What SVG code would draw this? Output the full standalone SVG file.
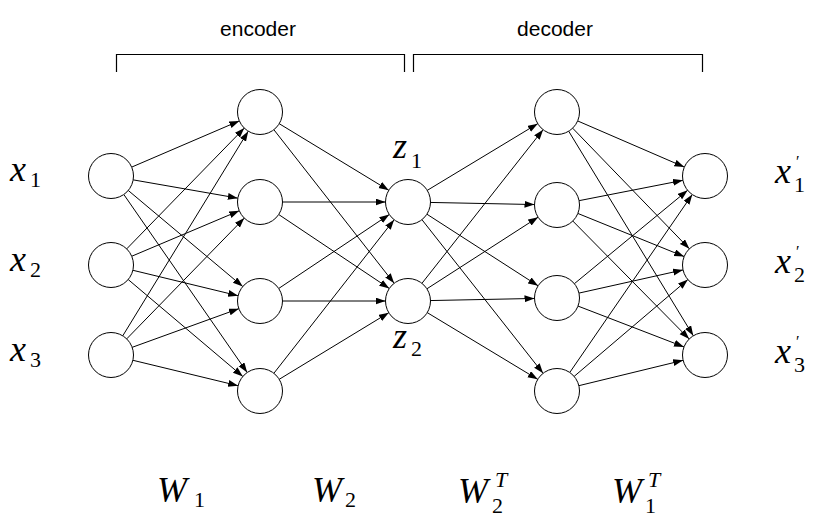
<svg xmlns="http://www.w3.org/2000/svg" width="821" height="522" viewBox="0 0 821 522">
<defs>
<marker id="ah" markerWidth="10" markerHeight="8" refX="10" refY="3.5" orient="auto" markerUnits="userSpaceOnUse">
<path d="M0,0 L10,3.5 L0,7 z" fill="#000"/>
</marker>
</defs>
<style>
.node circle{fill:#fff;stroke:#000;stroke-width:1}
.edges line{stroke:#000;stroke-width:1;marker-end:url(#ah)}
.br{fill:none;stroke:#000;stroke-width:1.2}
.lab{font-family:"Liberation Sans",Arial,sans-serif;font-size:21px;fill:#000;text-anchor:middle}
</style>
<rect width="821" height="522" fill="#fff"/>
<g id="brackets">
<path class="br" d="M116.5,72 V54.5 H404.5 V72"/>
<path class="br" d="M413.5,72 V54.5 H702.5 V72"/>
<text class="lab" x="258" y="36">encoder</text>
<text class="lab" x="555" y="36">decoder</text>
</g>
<g class="edges" id="connectors">
<line x1="131.67" y1="167.12" x2="239.33" y2="120.88"/>
<line x1="133.16" y1="179.87" x2="237.84" y2="198.13"/>
<line x1="128.24" y1="190.46" x2="242.76" y2="286.54"/>
<line x1="123.82" y1="194.49" x2="247.18" y2="372.51"/>
<line x1="126.70" y1="248.88" x2="244.30" y2="128.12"/>
<line x1="131.72" y1="256.24" x2="239.28" y2="210.76"/>
<line x1="132.87" y1="270.28" x2="238.13" y2="295.72"/>
<line x1="128.18" y1="279.53" x2="242.82" y2="376.47"/>
<line x1="122.76" y1="335.82" x2="248.24" y2="131.18"/>
<line x1="126.70" y1="338.88" x2="244.30" y2="218.12"/>
<line x1="132.15" y1="347.33" x2="238.85" y2="308.67"/>
<line x1="132.87" y1="360.28" x2="238.13" y2="385.72"/>
<line x1="279.22" y1="123.69" x2="388.78" y2="190.31"/>
<line x1="273.87" y1="129.71" x2="394.13" y2="283.29"/>
<line x1="282.5" y1="202" x2="385.5" y2="202"/>
<line x1="278.70" y1="214.51" x2="389.30" y2="288.49"/>
<line x1="278.70" y1="288.49" x2="389.30" y2="214.51"/>
<line x1="282.5" y1="301" x2="385.5" y2="301"/>
<line x1="273.87" y1="373.29" x2="394.13" y2="219.71"/>
<line x1="279.22" y1="379.31" x2="388.78" y2="312.69"/>
<line x1="427.26" y1="190.37" x2="537.74" y2="123.63"/>
<line x1="430.5" y1="202.45" x2="534.5" y2="204.55"/>
<line x1="426.91" y1="214.19" x2="538.09" y2="285.81"/>
<line x1="421.93" y1="219.67" x2="543.07" y2="373.33"/>
<line x1="421.93" y1="283.33" x2="543.07" y2="129.67"/>
<line x1="426.91" y1="288.81" x2="538.09" y2="217.19"/>
<line x1="430.5" y1="300.55" x2="534.5" y2="298.45"/>
<line x1="427.26" y1="312.63" x2="537.74" y2="379.37"/>
<line x1="577.65" y1="120.93" x2="684.35" y2="167.07"/>
<line x1="572.64" y1="128.17" x2="689.36" y2="248.83"/>
<line x1="568.70" y1="131.22" x2="693.30" y2="335.78"/>
<line x1="579.08" y1="200.67" x2="682.92" y2="180.33"/>
<line x1="577.85" y1="213.45" x2="684.15" y2="256.55"/>
<line x1="572.80" y1="221.02" x2="689.20" y2="338.98"/>
<line x1="574.36" y1="283.69" x2="687.64" y2="190.31"/>
<line x1="578.96" y1="293.10" x2="683.04" y2="269.90"/>
<line x1="578.00" y1="306.09" x2="684.00" y2="346.91"/>
<line x1="569.76" y1="372.47" x2="692.24" y2="194.53"/>
<line x1="574.13" y1="376.41" x2="687.87" y2="279.59"/>
<line x1="578.86" y1="385.68" x2="683.14" y2="360.32"/>
</g>
<g class="node" id="in1"><circle cx="111" cy="176" r="22.5"/></g>
<g class="node" id="in2"><circle cx="111" cy="265" r="22.5"/></g>
<g class="node" id="in3"><circle cx="111" cy="355" r="22.5"/></g>
<g class="node" id="h1"><circle cx="260" cy="112" r="22.5"/></g>
<g class="node" id="h2"><circle cx="260" cy="202" r="22.5"/></g>
<g class="node" id="h3"><circle cx="260" cy="301" r="22.5"/></g>
<g class="node" id="h4"><circle cx="260" cy="391" r="22.5"/></g>
<g class="node" id="z1"><circle cx="408" cy="202" r="22.5"/></g>
<g class="node" id="z2"><circle cx="408" cy="301" r="22.5"/></g>
<g class="node" id="d1"><circle cx="557" cy="112" r="22.5"/></g>
<g class="node" id="d2"><circle cx="557" cy="205" r="22.5"/></g>
<g class="node" id="d3"><circle cx="557" cy="298" r="22.5"/></g>
<g class="node" id="d4"><circle cx="557" cy="391" r="22.5"/></g>
<g class="node" id="o1"><circle cx="705" cy="176" r="22.5"/></g>
<g class="node" id="o2"><circle cx="705" cy="265" r="22.5"/></g>
<g class="node" id="o3"><circle cx="705" cy="355" r="22.5"/></g>
<g id="labels" font-family="Liberation Serif, serif" fill="#000">
<g font-style="italic" font-size="36">
<text x="10" y="181">x</text>
<text x="10" y="271">x</text>
<text x="10" y="361">x</text>
<text x="775" y="183">x</text>
<text x="775" y="273">x</text>
<text x="775" y="363">x</text>
<text x="393" y="158">z</text>
<text x="393" y="348">z</text>
<text x="157" y="502">W</text>
<text x="312" y="502">W</text>
<text x="458" y="503">W</text>
<text x="612" y="503">W</text>
</g>
<g font-size="22">
<text x="30" y="187">1</text>
<text x="30" y="277">2</text>
<text x="30" y="367">3</text>
<text x="794" y="192">1</text>
<text x="794" y="282">2</text>
<text x="794" y="372">3</text>
<text x="411" y="168">1</text>
<text x="411" y="356">2</text>
<text x="194" y="507">1</text>
<text x="345" y="507">2</text>
<text x="492" y="513">2</text>
<text x="645" y="513">1</text>
</g>
<g font-size="22" font-style="italic">
<text x="495" y="487">T</text>
<text x="648" y="487">T</text>
</g>
<g font-size="16">
<text x="796" y="167">′</text>
<text x="796" y="257">′</text>
<text x="796" y="347">′</text>
</g>
</g>
</svg>
